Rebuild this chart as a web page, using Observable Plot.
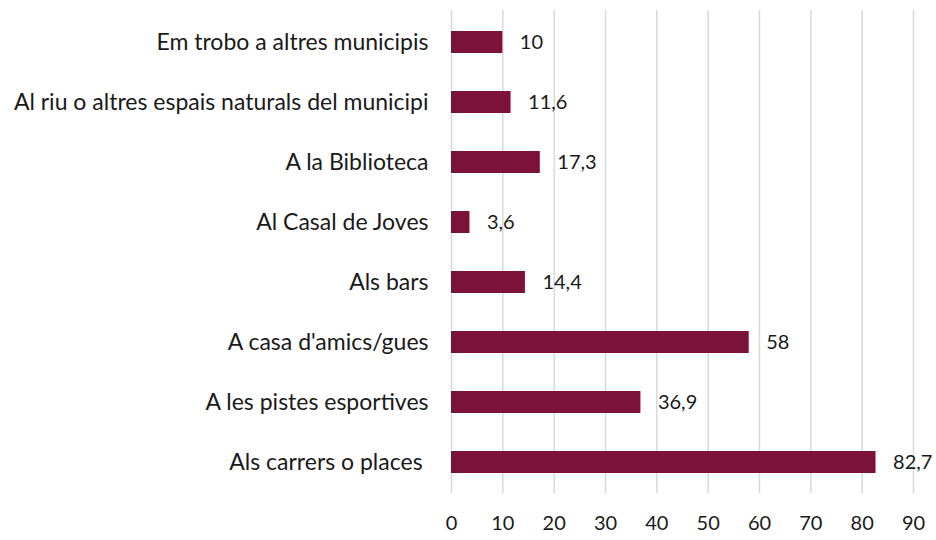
<!DOCTYPE html>
<html>
<head>
<meta charset="utf-8">
<script src="https://cdn.jsdelivr.net/npm/d3@7"></script>
<script src="https://cdn.jsdelivr.net/npm/@observablehq/plot@0.6"></script>
<style>
  html, body { margin: 0; padding: 0; background: #fff; }
</style>
</head>
<body>
<div id="chart"></div>
<script>
const categories = [
  "Em trobo a altres municipis",
  "Al riu o altres espais naturals del municipi",
  "A la Biblioteca",
  "Al Casal de Joves",
  "Als bars",
  "A casa d'amics/gues",
  "A les pistes esportives",
  "Als carrers o places "
];
const values = [10, 11.6, 17.3, 3.6, 14.4, 58, 36.9, 82.7];
const xTicks = [0, 10, 20, 30, 40, 50, 60, 70, 80, 90];

const data = categories.map((c, i) => ({category: c, value: values[i]}));
const fmt = v => String(v).replace(".", ",");

const chart = Plot.plot({
  width: 936,
  height: 540,
  marginTop: 10,
  marginBottom: 47,
  marginLeft: 451,
  marginRight: 23,
  style: {fontFamily: "Lato, 'Noto Sans', sans-serif", fontSize: "20px", color: "#1a1a1a", background: "#fff"},
  x: {domain: [0, 90], ticks: xTicks, label: null},
  y: {domain: categories, paddingInner: 0.635, paddingOuter: 0.3175, align: 0.5, label: null},
  marks: [
    Plot.gridX(xTicks, {stroke: "#d9d9d9", strokeOpacity: 1, strokeWidth: 1.5}),
    Plot.barX(data, {x: "value", y: "category", fill: "#7b1338"}),
    Plot.text(data, {x: "value", y: "category", text: d => fmt(d.value), textAnchor: "start", dx: 17, fontSize: 20, fill: "#1a1a1a"}),
    Plot.axisX({ticks: xTicks, tickSize: 0, tickPadding: 22, label: null, fontSize: 20}),
    Plot.axisY({tickSize: 0, tickPadding: 23, label: null, fontSize: 23})
  ]
});
document.getElementById("chart").appendChild(chart);
</script>
</body>
</html>
